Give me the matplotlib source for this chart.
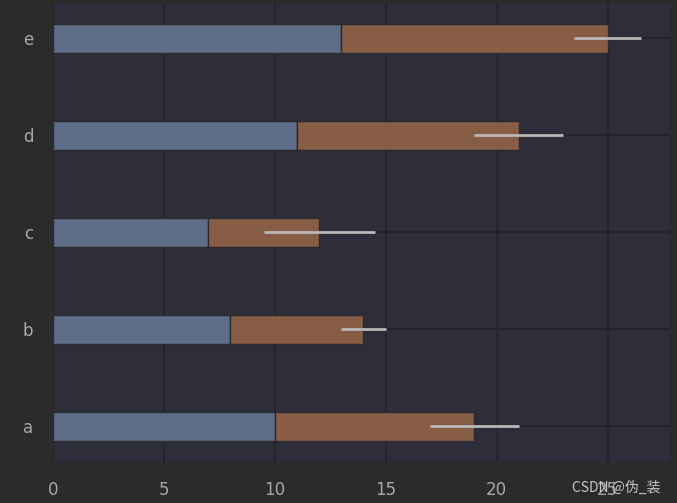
import matplotlib
matplotlib.use("Agg")
import matplotlib.pyplot as plt
import numpy as np

# Data
labels = ["a", "b", "c", "d", "e"]
first = [10, 8, 7, 11, 13]
second = [9, 6, 5, 10, 12]
second_err = [2, 1, 2.5, 2, 1.5]

fig = plt.figure(figsize=(6.77, 5.03), dpi=100, facecolor="#2b2b2b")
ax = fig.add_axes([0.078, 0.082, 0.912, 0.912])
ax.set_facecolor("#2e2e3a")

y = np.arange(len(labels))
ax.barh(y, first, height=0.3, color="#5e6e89", edgecolor="#2a2a30", linewidth=1, zorder=2)
ax.barh(y, second, left=first, height=0.3, color="#875d45", edgecolor="#2a2a30",
        linewidth=1, zorder=2)
ends = np.array(first) + np.array(second)
ax.errorbar(ends, y, xerr=second_err, fmt="none", ecolor="#b8b8b8", elinewidth=2,
            capsize=0, zorder=3)

ax.set_yticks(y)
ax.set_yticklabels(labels)
ax.set_xticks([0, 5, 10, 15, 20, 25])
ax.tick_params(colors="#a8a8a8", labelsize=12, length=0, pad=14)
ax.grid(True, color="#232329", linewidth=1.2, zorder=0)
ax.set_axisbelow(True)
for s in ax.spines.values():
    s.set_visible(False)

fig.text(0.976, 0.03, "CSDN @伪_装", color="#c8c8c8", fontsize=10, ha="right",
         va="center", family=["Noto Sans CJK SC", "DejaVu Sans"])

fig.savefig("out.png", dpi=100, facecolor=fig.get_facecolor())
